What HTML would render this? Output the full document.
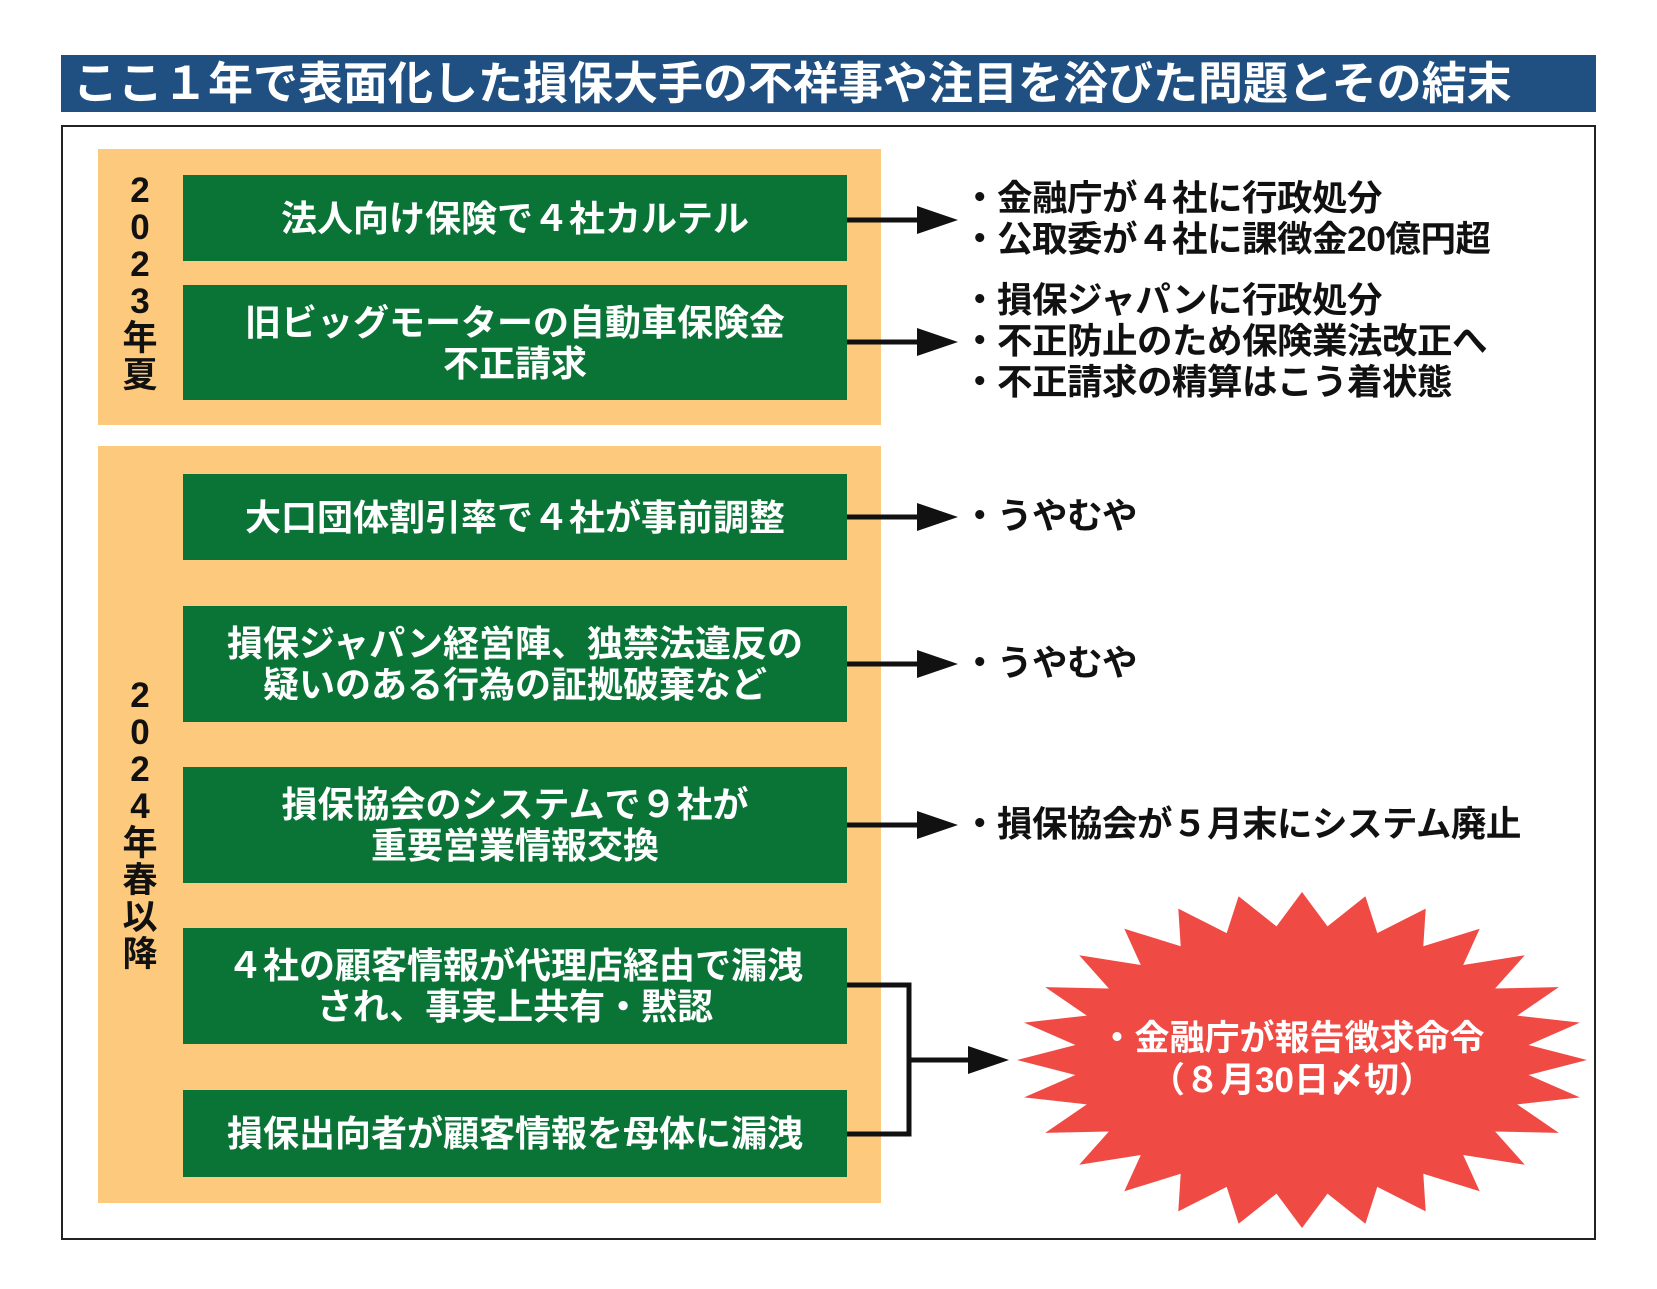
<!DOCTYPE html>
<html><head><meta charset="utf-8"><style>
body{margin:0;background:#fff;}
.r{position:absolute;}
*{font-family:"Liberation Sans","Noto Sans CJK JP",sans-serif;font-weight:bold;}
.g{position:absolute;left:183px;width:664px;background:#0a7437;color:#fff;font-size:36px;line-height:41px;display:flex;align-items:center;justify-content:center;text-align:center;white-space:nowrap;}
.t{position:absolute;left:962px;font-size:35.5px;line-height:41px;color:#111;white-space:nowrap;letter-spacing:-0.5px;}
.v{position:absolute;left:120px;width:40px;text-align:center;font-size:35px;color:#111;}
</style></head><body>
<div style="position:relative;width:1657px;height:1289px;overflow:hidden">
<div class="r" style="left:61px;top:55px;width:1535px;height:57px;background:#1f5081;color:#fff;font-size:45px;line-height:57px;padding-left:12px;box-sizing:border-box;white-space:nowrap">ここ１年で表面化した損保大手の不祥事や注目を浴びた問題とその結末</div>
<div class="r" style="left:61px;top:125px;width:1535px;height:1115px;border:2px solid #222;box-sizing:border-box"></div>
<div class="r" style="left:98px;top:149px;width:783px;height:276px;background:#fcc97d"></div>
<div class="r" style="left:98px;top:446px;width:783px;height:757px;background:#fcc97d"></div>
<div class="v" style="top:172px;line-height:37px">2<br>0<br>2<br>3<br>年<br>夏</div>
<div class="v" style="top:677px;line-height:37px">2<br>0<br>2<br>4<br>年<br>春<br>以<br>降</div>
<div class="g" style="top:175px;height:86px">法人向け保険で４社カルテル</div>
<div class="g" style="top:285px;height:115px">旧ビッグモーターの自動車保険金<br>不正請求</div>
<div class="g" style="top:474px;height:86px">大口団体割引率で４社が事前調整</div>
<div class="g" style="top:606px;height:116px">損保ジャパン経営陣、独禁法違反の<br>疑いのある行為の証拠破棄など</div>
<div class="g" style="top:767px;height:116px">損保協会のシステムで９社が<br>重要営業情報交換</div>
<div class="g" style="top:928px;height:116px">４社の顧客情報が代理店経由で漏洩<br>され、事実上共有・黙認</div>
<div class="g" style="top:1090px;height:87px">損保出向者が顧客情報を母体に漏洩</div>
<svg class="r" style="left:0;top:0" width="1657" height="1289">
<g stroke="#111" stroke-width="5" fill="none">
<line x1="847" y1="220" x2="925" y2="220"/>
<line x1="847" y1="342" x2="925" y2="342"/>
<line x1="847" y1="517" x2="925" y2="517"/>
<line x1="847" y1="664" x2="925" y2="664"/>
<line x1="847" y1="825" x2="925" y2="825"/>
<polyline points="847,985 909,985 909,1134 847,1134"/>
<line x1="909" y1="1060" x2="975" y2="1060"/>
</g>
<g fill="#111">
<polygon points="917,206 958,220 917,234"/>
<polygon points="917,328 958,342 917,356"/>
<polygon points="917,503 958,517 917,531"/>
<polygon points="917,650 958,664 917,678"/>
<polygon points="917,811 958,825 917,839"/>
<polygon points="968,1046 1009,1060 968,1074"/>
</g>
<polygon id="star" fill="#f04a44" points=""/>
</svg>
<script>
(function(){var cx=1302,cy=1060,rx=285,ry=168,n=28,p=[];for(var i=0;i<2*n;i++){var a=Math.PI*i/n;var k=i%2?0.8:1;p.push((cx+rx*k*Math.cos(a)).toFixed(1)+","+(cy+ry*k*Math.sin(a)).toFixed(1));}document.getElementById("star").setAttribute("points",p.join(" "));})();
</script>
<div class="t" style="top:178px">・金融庁が４社に行政処分<br>・公取委が４社に課徴金20億円超</div>
<div class="t" style="top:280px">・損保ジャパンに行政処分<br>・不正防止のため保険業法改正へ<br>・不正請求の精算はこう着状態</div>
<div class="t" style="top:496px">・うやむや</div>
<div class="t" style="top:643px">・うやむや</div>
<div class="t" style="top:804px">・損保協会が５月末にシステム廃止</div>
<div class="r" style="left:1092px;top:1018px;width:400px;text-align:center;color:#fff;font-size:35px;line-height:42px;white-space:nowrap">・金融庁が報告徴求命令<br>（８月30日〆切）</div>
</div>
</body></html>
